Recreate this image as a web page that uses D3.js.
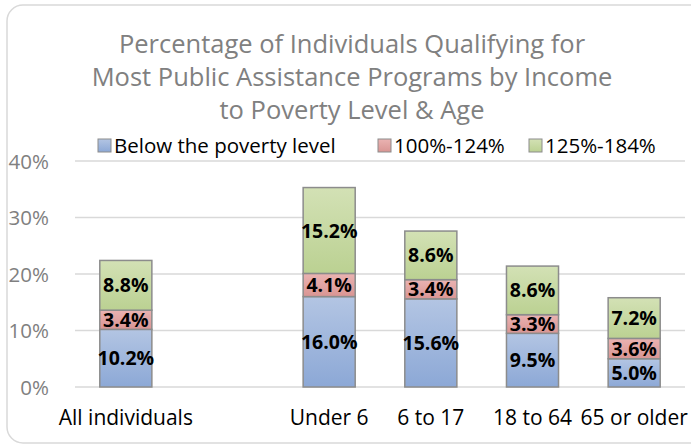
<!DOCTYPE html>
<html>
<head>
<meta charset="utf-8">
<script src="https://cdn.jsdelivr.net/npm/d3@7"></script>
<style>
body { margin: 0; background: #fff; }
text { font-family: "Open Sans", "Noto Sans", sans-serif; }
</style>
</head>
<body>
<div id="chart"></div>
<script>
// data
var categories = ["All individuals", "", "Under 6", "6 to 17", "18 to 64", "65 or older"];
var seriesNames = ["Below the poverty level", "100%-124%", "125%-184%"];
var below = [10.2, null, 16.0, 15.6, 9.5, 5.0];
var mid = [3.4, null, 4.1, 3.4, 3.3, 3.6];
var upper = [8.8, null, 15.2, 8.6, 8.6, 7.2];
var yTicks = [0, 10, 20, 30, 40];
var titleLines = ["Percentage of Individuals Qualifying for",
                  "Most Public Assistance Programs by Income",
                  "to Poverty Level & Age"];

var W = 691, H = 445;
var m = [161, 6, 58, 75]; // top right bottom left
var w = W - m[1] - m[3];
var h = H - m[0] - m[2];
var font = "'Open Sans', 'Noto Sans', sans-serif";

var colors = [["#b3c5e3", "#8ca8d6"], ["#eab3b2", "#d99593"], ["#d3e1b5", "#bbd192"]];

var svg = d3.select("#chart").append("svg")
	.attr("width", W)
	.attr("height", H);

var defs = svg.append("defs");
colors.forEach(function(c, i) {
	var g = defs.append("linearGradient")
		.attr("id", "grad" + i)
		.attr("x1", 0).attr("y1", 0).attr("x2", 0).attr("y2", 1);
	g.append("stop").attr("offset", "0%").attr("stop-color", c[0]);
	g.append("stop").attr("offset", "100%").attr("stop-color", c[1]);
});

// chart frame
svg.append("rect")
	.attr("x", 7).attr("y", 5)
	.attr("width", 700).attr("height", 438)
	.attr("rx", 16)
	.attr("fill", "#fff")
	.attr("stroke", "#d9d9d9")
	.attr("stroke-width", 1.5);

// title
svg.append("g").selectAll("text")
	.data(titleLines)
	.enter().append("text")
	.attr("x", 352)
	.attr("y", function(d, i) { return 53 + i * 33; })
	.attr("text-anchor", "middle")
	.attr("fill", "#808080")
	.style("font-size", "25.5px")
	.text(function(d) { return d; });

// scales
var x = d3.scaleBand()
	.domain(d3.range(categories.length))
	.range([0, w])
	.paddingInner(0.488)
	.paddingOuter(0.244);

var y = d3.scaleLinear()
	.domain([0, 40])
	.range([h, 0]);

var plot = svg.append("g")
	.attr("transform", "translate(" + m[3] + "," + m[0] + ")");

// gridlines
plot.append("g").selectAll("line")
	.data(yTicks)
	.enter().append("line")
	.attr("x1", 0)
	.attr("x2", w)
	.attr("y1", function(d) { return y(d); })
	.attr("y2", function(d) { return y(d); })
	.attr("stroke", "#d9d9d9")
	.attr("stroke-width", 1.3);

// y axis
var yAxis = plot.append("g")
	.attr("transform", "translate(-23,0)")
	.call(d3.axisLeft(y).tickValues(yTicks).tickSize(0).tickFormat(function(d) { return d + "%"; }));
yAxis.select(".domain").remove();
yAxis.selectAll("text")
	.attr("fill", "#808080")
	.attr("dy", "0.36em")
	.style("font-size", "20.5px")
	.style("font-family", font);

// x axis
var xAxis = plot.append("g")
	.attr("transform", "translate(0," + h + ")")
	.call(d3.axisBottom(x).tickSize(0).tickFormat(function(i) { return categories[i]; }));
xAxis.select(".domain").remove();
xAxis.selectAll("text")
	.attr("y", 38)
	.attr("dy", 0)
	.attr("fill", "#000")
	.style("font-size", "21px")
	.style("font-family", font);

// stacked bars
var rows = categories.map(function(c, i) {
	return {i: i, v0: below[i], v1: mid[i], v2: upper[i]};
}).filter(function(d) { return d.v0 != null; });

var stack = d3.stack().keys(["v0", "v1", "v2"]);
var layers = stack(rows);

var layer = plot.append("g").selectAll("g")
	.data(layers)
	.enter().append("g")
	.attr("fill", function(d, i) { return "url(#grad" + i + ")"; });

layer.selectAll("rect")
	.data(function(d) { return d; })
	.enter().append("rect")
	.attr("x", function(d) { return x(d.data.i); })
	.attr("y", function(d) { return y(d[1]); })
	.attr("width", x.bandwidth())
	.attr("height", function(d) { return y(d[0]) - y(d[1]); })
	.attr("stroke", "#8c8c8c")
	.attr("stroke-width", 1.5);

layer.selectAll("text")
	.data(function(d) { return d; })
	.enter().append("text")
	.attr("x", function(d) { return x(d.data.i) + x.bandwidth() / 2; })
	.attr("y", function(d) { return (y(d[0]) + y(d[1])) / 2; })
	.attr("dy", "0.36em")
	.attr("text-anchor", "middle")
	.attr("fill", "#000")
	.style("font-size", "19.5px")
	.style("font-weight", "bold")
	.text(function(d) { return (d[1] - d[0]).toFixed(1) + "%"; });

// legend
var legendX = [98, 378, 529];
var legend = svg.append("g").selectAll("g")
	.data(seriesNames)
	.enter().append("g")
	.attr("transform", function(d, i) { return "translate(" + legendX[i] + ",139)"; });

legend.append("rect")
	.attr("width", 13).attr("height", 13)
	.attr("fill", function(d, i) { return "url(#grad" + i + ")"; })
	.attr("stroke", "#8c8c8c")
	.attr("stroke-width", 1);

legend.append("text")
	.attr("x", 16)
	.attr("y", 7)
	.attr("dy", "0.36em")
	.attr("fill", "#000")
	.style("font-size", "20.5px")
	.text(function(d) { return d; });
</script>
</body>
</html>
